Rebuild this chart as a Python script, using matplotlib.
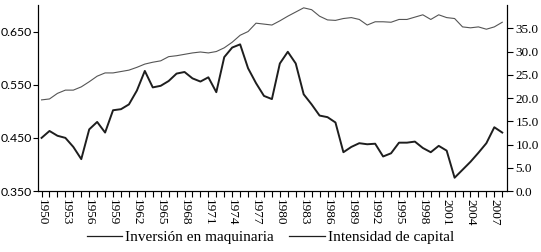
import numpy as np
import matplotlib
matplotlib.use("Agg")
import matplotlib.pyplot as plt
from matplotlib.lines import Line2D

# Years 1950-2008
years = list(range(1950, 2009))

# Inversion en maquinaria (left axis)
inversion = [
    0.450, 0.463, 0.454, 0.450, 0.433, 0.410, 0.466, 0.480, 0.460, 0.502,
    0.504, 0.513, 0.539, 0.576, 0.545, 0.548, 0.557, 0.571, 0.574, 0.562,
    0.556, 0.564, 0.536, 0.602, 0.620, 0.626, 0.581, 0.553, 0.529, 0.523,
    0.590, 0.612, 0.590, 0.532, 0.513, 0.492, 0.489, 0.479, 0.423, 0.433,
    0.440, 0.438, 0.439, 0.415, 0.421, 0.441, 0.441, 0.443, 0.431, 0.423,
    0.435, 0.426, 0.375, 0.390, 0.405, 0.422, 0.440, 0.470, 0.460,
]

# Intensidad de capital (right axis)
intensidad = [
    19.6, 19.8, 21.0, 21.7, 21.7, 22.4, 23.5, 24.7, 25.4, 25.4,
    25.7, 26.0, 26.6, 27.3, 27.7, 28.0, 28.9, 29.1, 29.4, 29.7,
    29.9, 29.7, 30.0, 30.8, 32.0, 33.5, 34.3, 36.1, 35.9, 35.7,
    36.6, 37.6, 38.5, 39.4, 39.0, 37.6, 36.8, 36.7, 37.1, 37.3,
    36.9, 35.7, 36.4, 36.4, 36.3, 36.9, 36.9, 37.4, 37.9, 36.9,
    37.9, 37.3, 37.1, 35.3, 35.1, 35.3, 34.8, 35.3, 36.3,
]

left_ticks = [0.350, 0.450, 0.550, 0.650]
right_ticks = [0.0, 5.0, 10.0, 15.0, 20.0, 25.0, 30.0, 35.0]
label_years = list(range(1950, 2009, 3))
legend_labels = ["Inversión en maquinaria", "Intensidad de capital"]

serif = "Liberation Serif"
sans = "Lato"

fig = plt.figure(figsize=(5.41, 2.52), dpi=100)
ax = fig.add_axes([0.0702, 0.242, 0.867, 0.738])
ax2 = ax.twinx()

ax.plot(years, inversion, color="#1e1e1e", lw=1.4)
ax2.plot(years, intensidad, color="#555555", lw=0.8)

ax.set_xlim(1949.55, 2008.6)
ax.set_ylim(0.35, 0.70)
ax2.set_ylim(0, 40)

for a in (ax, ax2):
    a.spines["top"].set_visible(False)
    a.spines["left"].set_linewidth(0.8)
    a.spines["right"].set_linewidth(0.8)
    a.spines["bottom"].set_linewidth(0.8)

ax.set_yticks(left_ticks)
ax.set_yticklabels([f"{v:.3f}" for v in left_ticks], fontfamily=sans, fontsize=8.8)
ax2.set_yticks(right_ticks)
ax2.set_yticklabels([f"{v:.1f}" for v in right_ticks], fontfamily=serif, fontsize=9.5)

ax.set_xticks(years, minor=True)
ax.set_xticks(label_years)
ax.set_xticklabels([str(y) for y in label_years], rotation=270,
                   fontfamily=serif, fontsize=9.5)

ax.tick_params(axis="x", which="both", direction="out", length=4, width=0.8, pad=1.5)
ax.tick_params(axis="y", direction="out", length=3.5, width=0.8, pad=1)
ax2.tick_params(axis="y", direction="out", length=4, width=0.8, pad=2)

handles = [Line2D([], [], color="#1e1e1e", lw=0.9) for _ in legend_labels]
fig.legend(handles=handles, labels=legend_labels, loc="center",
           bbox_to_anchor=(0.5, 0.058), ncol=2, frameon=False,
           prop={"family": serif, "size": 11},
           handlelength=2.3, handletextpad=0.2, columnspacing=1.0)

fig.savefig("out.png", dpi=100)
